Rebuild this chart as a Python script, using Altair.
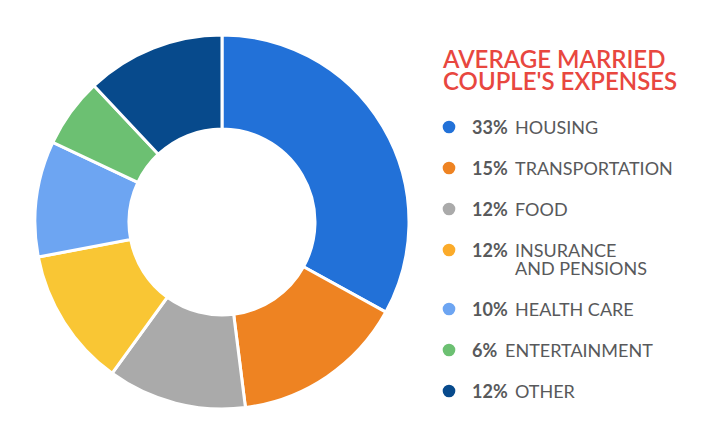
import altair as alt
import pandas as pd

categories = ["HOUSING", "TRANSPORTATION", "FOOD", "INSURANCE\nAND PENSIONS",
              "HEALTH CARE", "ENTERTAINMENT", "OTHER"]
values = [33, 15, 12, 12, 10, 6, 12]
slice_colors = ["#2271d8", "#ee8322", "#aaaaaa", "#f9c634", "#6da5f2", "#6cc072", "#074a8c"]
dot_colors = ["#2271d8", "#ee8322", "#aaaaaa", "#fbab2a", "#6da5f2", "#6cc072", "#074a8c"]
title_lines = ["AVERAGE MARRIED", "COUPLE'S EXPENSES"]

df = pd.DataFrame({
    "category": categories,
    "value": values,
    "idx": list(range(len(categories))),
})

FONT = "Lato"
CX, CY = 222, 222

arc = alt.Chart(df).mark_arc(stroke="white", strokeWidth=3).encode(
    theta=alt.Theta("value:Q", stack=True),
    order=alt.Order("idx:Q"),
    color=alt.Color("category:N", sort=categories,
                    scale=alt.Scale(domain=categories, range=slice_colors), legend=None),
    x=alt.value(CX), y=alt.value(CY),
    radius=alt.value(187), radius2=alt.value(93),
)

legend_base = alt.Chart(df).transform_calculate(
    slot="datum.idx + (datum.idx >= 4 ? 0.44 : 0)",
    pct="datum.value + '%'",
    lx="datum.value >= 10 ? 515 : 505",
)
yenc = alt.Y("slot:Q", scale=alt.Scale(domain=[0, 10], range=[127, 537]), axis=None)

dots = legend_base.mark_point(filled=True, size=160, opacity=1, shape="circle").encode(
    x=alt.value(449), y=yenc,
    color=alt.Color("category:N", sort=categories,
                    scale=alt.Scale(domain=categories, range=dot_colors), legend=None),
)

pct_text = legend_base.mark_text(
    font=FONT, fontSize=18, fontWeight="bold", color="#58595b",
    align="left", baseline="alphabetic", dy=7,
).encode(x=alt.value(472), y=yenc, text="pct:N")

label_text = legend_base.mark_text(
    font=FONT, fontSize=18, color="#58595b", align="left",
    baseline="alphabetic", dy=7, lineBreak="\n", lineHeight=18,
).encode(
    x=alt.X("lx:Q", scale=alt.Scale(domain=[0, 720], range=[0, 720]), axis=None),
    y=yenc, text="category:N",
)

title = alt.Chart(pd.DataFrame({"t": ["\n".join(title_lines)]})).mark_text(
    font=FONT, fontSize=24, fontWeight=600, color="#e8473f",
    align="left", baseline="alphabetic", lineBreak="\n", lineHeight=22,
).encode(x=alt.value(443), y=alt.value(68), text="t:N")

chart = alt.layer(arc, dots, pct_text, label_text, title).resolve_scale(
    x="independent", y="independent", color="independent"
).properties(
    width=720, height=445, padding=0,
    autosize=alt.AutoSizeParams(type="none"),
).configure_view(stroke=None)

chart.save("out.html", embed_options={"renderer": "svg", "actions": False})
